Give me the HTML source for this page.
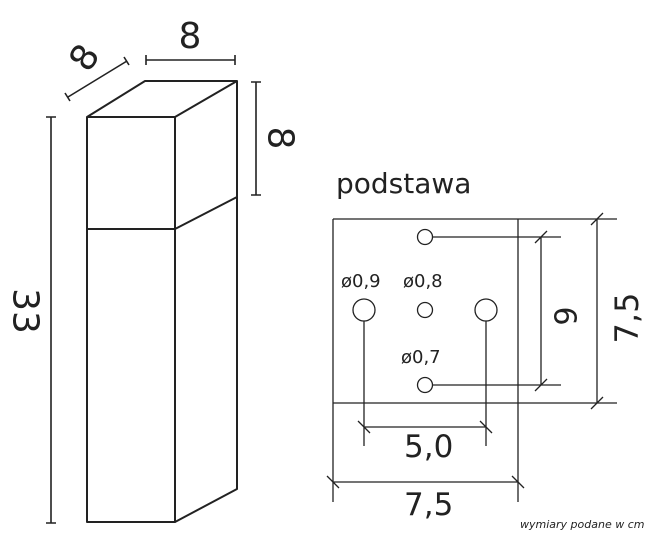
<!DOCTYPE html>
<html><head><meta charset="utf-8"><style>
html,body{margin:0;padding:0;background:#fff;width:663px;height:535px;overflow:hidden}
svg{display:block}
text{font-family:"DejaVu Sans","Liberation Sans",sans-serif;fill:#222}
</style></head><body>
<svg width="663" height="535" viewBox="0 0 663 535" xmlns="http://www.w3.org/2000/svg">
<g stroke="#222" stroke-width="2" fill="none" stroke-linejoin="round">
  <path d="M87,117 L145,81 L237,81 L175,117 Z"/>
  <path d="M87,117 L87,522 L175,522 L175,117"/>
  <path d="M237,81 L237,489 L175,522"/>
  <path d="M87,229 L175,229 L237,197"/>
  <path d="M51,117 L51,523 M46,117 L56,117 M46,523 L56,523" stroke-width="1.6"/>
  <path d="M146,60 L235,60 M146,55 L146,65 M235,55 L235,65" stroke-width="1.6"/>
  <path d="M68,97 L127,61 M65,93 L70,101 M124,57 L129,65" stroke-width="1.6"/>
  <path d="M256,82 L256,195 M251,82 L261,82 M251,195 L261,195" stroke-width="1.6"/>
</g>
<g stroke="#222" stroke-width="1.3" fill="none">
  <path d="M333,219 L617,219 M333,219 L333,502 M518,219 L518,502 M333,403 L617,403"/>
  <circle cx="425" cy="237" r="7.5" fill="#fff"/>
  <circle cx="425" cy="385" r="7.5" fill="#fff"/>
  <circle cx="425" cy="310" r="7.5" fill="#fff"/>
  <circle cx="364" cy="310" r="11" fill="#fff"/>
  <circle cx="486" cy="310" r="11" fill="#fff"/>
  <path d="M433,237 L561,237 M433,385 L561,385"/>
  <path d="M364,321 L364,446 M486,321 L486,446"/>
  <path d="M364,427 L486,427 M358,421 L370,433 M480,421 L492,433"/>
  <path d="M541,237 L541,385 M535,243 L547,231 M535,391 L547,379"/>
  <path d="M597,219 L597,403 M591,225 L603,213 M591,409 L603,397"/>
  <path d="M333,482 L518,482 M327,476 L339,488 M512,476 L524,488"/>
</g>
<text x="336" y="193" font-size="28">podstawa</text>
<text x="341" y="287" font-size="18">ø0,9</text>
<text x="403" y="287" font-size="18">ø0,8</text>
<text x="401" y="363" font-size="18">ø0,7</text>
<text x="404" y="457" font-size="31">5,0</text>
<text x="404" y="515" font-size="31">7,5</text>
<text x="520" y="528" font-size="11" font-style="italic">wymiary podane w cm</text>
<text x="190" y="48" font-size="36" text-anchor="middle">8</text>
<text transform="translate(85,58) rotate(-58)" font-size="36" text-anchor="middle" dominant-baseline="central">8</text>
<text transform="translate(280,138) rotate(90)" font-size="36" text-anchor="middle" dominant-baseline="central">8</text>
<text transform="translate(25,311) rotate(90)" font-size="36" text-anchor="middle" dominant-baseline="central">33</text>
<text transform="translate(564,316) rotate(90)" font-size="30" text-anchor="middle" dominant-baseline="central">6</text>
<text transform="translate(627,318) rotate(-90)" font-size="32" text-anchor="middle" dominant-baseline="central">7,5</text>
</svg>
</body></html>
